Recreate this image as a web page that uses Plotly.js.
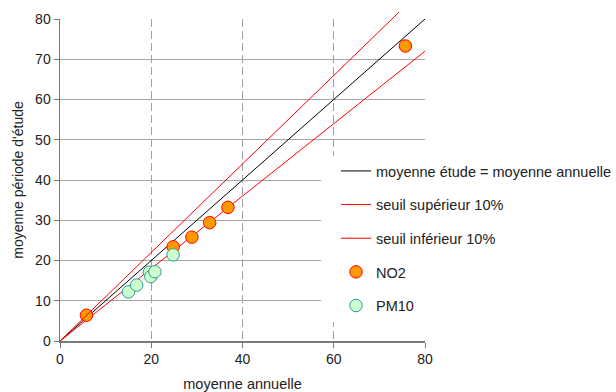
<!DOCTYPE html>
<html>
<head>
<meta charset="utf-8">
<script src="https://cdn.plot.ly/plotly-3.0.1.min.js"></script>
<style>html,body{margin:0;padding:0;background:#fff;}#chart{width:616px;height:392px;}</style>
</head>
<body>
<div id="chart"></div>
<script>
// Reference lines
var identX = [0, 80];
var identY = [0, 80];
var upperX = [0, 74.3];
var upperY = [0, 81.7];
var lowerX = [0, 80];
var lowerY = [0, 72];
// Measurements
var no2X = [5.8, 24.8, 28.9, 32.8, 36.8, 75.7];
var no2Y = [6.4, 23.4, 25.8, 29.4, 33.2, 73.3];
var pm10X = [15.0, 16.8, 19.6, 19.9, 20.8, 24.8];
var pm10Y = [12.2, 13.9, 17.1, 16.0, 17.2, 21.4];
var xTicks = [0, 20, 40, 60, 80];
var yTicks = [0, 10, 20, 30, 40, 50, 60, 70, 80];
var names = ["moyenne étude = moyenne annuelle", "seuil supérieur 10%", "seuil inférieur 10%", "NO2", "PM10"];

var W = 616, H = 392;
var mL = 60, mR = 191, mT = 5, mB = 51;
var plotW = W - mL - mR;
var plotH = H - mT - mB;        // 336
var innerH = 322;               // pixels spanning 0..80
var yMax = 80;
var y2Max = yMax * plotH / innerH;

var font = "Liberation Sans, Arial, sans-serif";

var traces = [
  {x: identX, y: identY, mode: "lines", name: names[0], line: {color: "#000000", width: 1}, legendgroup: "a", hoverinfo: "skip"},
  {x: upperX, y: upperY, mode: "lines", name: names[1], line: {color: "#ff0000", width: 1}, legendgroup: "b", xaxis: "x2", yaxis: "y2", hoverinfo: "skip"},
  {x: lowerX, y: lowerY, mode: "lines", name: names[2], line: {color: "#ff0000", width: 1}, legendgroup: "c", hoverinfo: "skip"},
  {x: no2X, y: no2Y, mode: "markers", name: names[3], legendgroup: "d",
   marker: {size: 12.5, color: "#ff9900", line: {color: "#ff0000", width: 1}}},
  {x: pm10X, y: pm10Y, mode: "markers", name: names[4], legendgroup: "e",
   marker: {size: 12.5, color: "#ccffcc", line: {color: "#339999", width: 1}}}
];

function px2fx(p) { return (p - mL) / plotW; }
function py2fy(p) { return (H - mB - p) / plotH; }

var layout = {
  width: W, height: H,
  margin: {l: mL, r: mR, t: mT, b: mB, pad: 0, autoexpand: false},
  paper_bgcolor: "#ffffff", plot_bgcolor: "rgba(0,0,0,0)",
  font: {family: font, size: 13, color: "#222222"},
  showlegend: true,
  legend: {
    x: px2fx(336), xanchor: "left",
    y: py2fy(155), yanchor: "top",
    bgcolor: "#ffffff", borderwidth: 0,
    font: {family: font, size: 14.5, color: "#222222"},
    tracegroupgap: 11.8, traceorder: "grouped"
  },
  shapes: [
    {type: "rect", xref: "paper", yref: "paper", layer: "above",
     x0: px2fx(321), x1: px2fx(W), y0: py2fy(322), y1: py2fy(156),
     fillcolor: "#ffffff", line: {width: 0}}
  ],
  xaxis: {
    range: [0, 80], tickvals: xTicks, ticktext: xTicks.map(String),
    showline: true, linecolor: "#7a7a7a", linewidth: 1.5,
    ticks: "outside", ticklen: 5, tickcolor: "#7a7a7a", tickwidth: 1,
    showgrid: true, gridcolor: "#a0a0a0", gridwidth: 1, griddash: "8px,4px",
    zeroline: false, fixedrange: true, automargin: false,
    tickfont: {family: font, size: 14, color: "#222222"},
    title: {text: "moyenne annuelle", font: {family: font, size: 14.5, color: "#222222"}, standoff: 18}
  },
  yaxis: {
    domain: [0, innerH / plotH],
    range: [0, yMax], tickvals: yTicks, ticktext: yTicks.map(String),
    showline: true, linecolor: "#7a7a7a", linewidth: 1.5,
    ticks: "outside", ticklen: 5, tickcolor: "#7a7a7a", tickwidth: 1,
    showgrid: true, gridcolor: "#a6a6a6", gridwidth: 1,
    zeroline: false, fixedrange: true, automargin: false,
    tickfont: {family: font, size: 14, color: "#222222"},
    title: {text: "moyenne période d'étude", font: {family: font, size: 14, color: "#222222"}, standoff: 8}
  },
  xaxis2: {
    domain: [0, 1], range: [0, 80], anchor: "y2", visible: false,
    showgrid: false, zeroline: false, fixedrange: true
  },
  yaxis2: {
    domain: [0, 1], range: [0, y2Max], anchor: "x2", visible: false,
    showgrid: false, zeroline: false, fixedrange: true
  }
};

Plotly.newPlot("chart", traces, layout, {staticPlot: true, displayModeBar: false});
</script>
</body>
</html>
